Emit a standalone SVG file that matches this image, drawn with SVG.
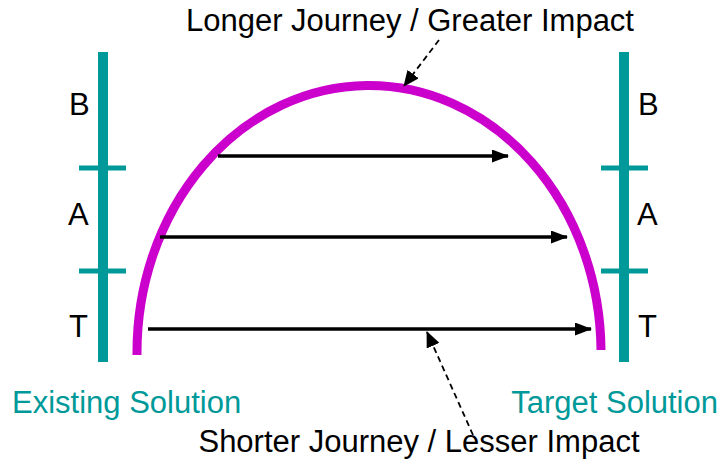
<svg xmlns="http://www.w3.org/2000/svg" width="721" height="463" viewBox="0 0 721 463">
<style>
text{font-family:"Liberation Sans",Arial,sans-serif}
.lbl{font-size:31px;fill:#000}
.sol{font-size:31px;fill:#009999}
.bar{stroke:#009999;stroke-width:10;fill:none}
.tick{stroke:#009999;stroke-width:5;fill:none}
.arr{stroke:#000;stroke-width:3.5;fill:none;marker-end:url(#ah)}
.dash{stroke:#000;stroke-width:1.8;stroke-dasharray:6,4;fill:none;marker-end:url(#ah2)}
</style>
<defs>
<marker id="ah" markerWidth="17" markerHeight="13" refX="16" refY="6.5" orient="auto" markerUnits="userSpaceOnUse"><path d="M0,0 L17,6.5 L0,13 z" fill="#000"/></marker>
<marker id="ah2" markerWidth="16" markerHeight="14" refX="15" refY="7" orient="auto" markerUnits="userSpaceOnUse"><path d="M0,0 L16,7 L0,14 z" fill="#000"/></marker>
</defs>
<g id="left-scale">
<line class="bar" x1="103" y1="52" x2="103" y2="362"/>
<line class="tick" x1="79" y1="168" x2="126" y2="168"/>
<line class="tick" x1="79" y1="271" x2="126" y2="271"/>
<text class="lbl" x="69" y="115">B</text>
<text class="lbl" x="68" y="225">A</text>
<text class="lbl" x="69" y="337">T</text>
</g>
<g id="right-scale">
<line class="bar" x1="624" y1="52" x2="624" y2="362"/>
<line class="tick" x1="601" y1="168" x2="648" y2="168"/>
<line class="tick" x1="601" y1="271" x2="648" y2="271"/>
<text class="lbl" x="638" y="115">B</text>
<text class="lbl" x="637" y="225">A</text>
<text class="lbl" x="638" y="337">T</text>
</g>
<g id="arc">
<path d="M137,355 A232,267 0 0 1 601,350" stroke="#CC00CC" stroke-width="9" fill="none"/>
</g>
<g id="connectors">
<line class="arr" x1="218" y1="156" x2="508" y2="156"/>
<line class="arr" x1="160" y1="237" x2="567" y2="237"/>
<line class="arr" x1="148" y1="329" x2="591" y2="329"/>
<line class="dash" x1="439" y1="40" x2="404" y2="86"/>
<line class="dash" x1="473" y1="435" x2="427" y2="332"/>
</g>
<g id="labels">
<text class="lbl" x="410" y="31" text-anchor="middle">Longer Journey / Greater Impact</text>
<text class="lbl" x="419" y="452" text-anchor="middle">Shorter Journey / Lesser Impact</text>
<text class="sol" x="12" y="413">Existing Solution</text>
<text class="sol" x="718" y="413" text-anchor="end">Target Solution</text>
</g>
</svg>
